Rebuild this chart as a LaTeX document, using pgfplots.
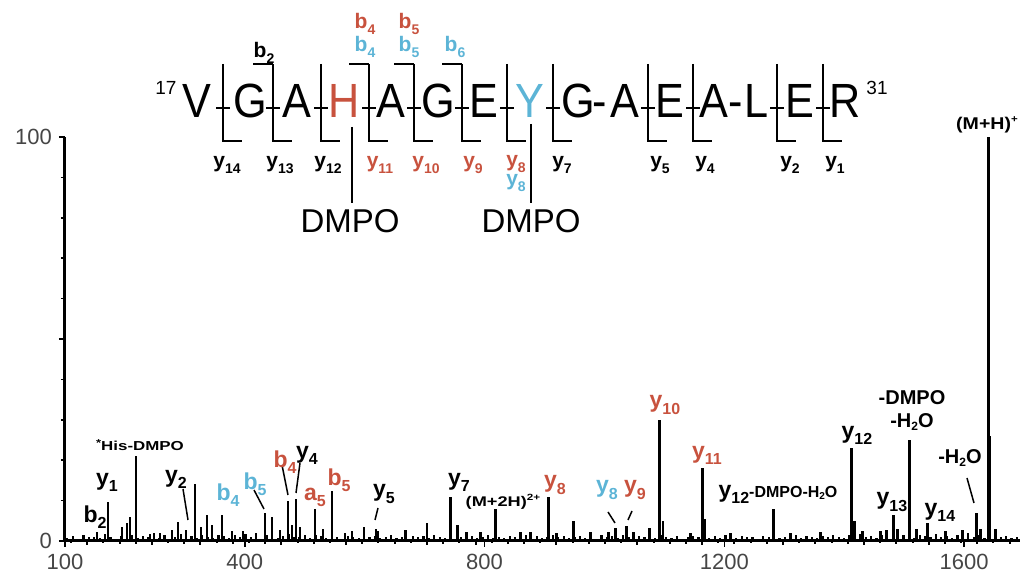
\documentclass[border=0pt]{standalone}
\usepackage{pgfplots}
\pgfplotsset{compat=1.18}
\usepackage{pgfplotstable}
\usepackage{fontspec}
\setmainfont{Liberation Sans}
\definecolor{ired}{RGB}{200,82,62}
\definecolor{iblue}{RGB}{92,180,214}
\definecolor{tgray}{RGB}{70,70,70}
\newcommand{\ion}[3][black]{\textcolor{#1}{\fontsize{11.5}{12}\selectfont\bfseries #2\raisebox{-0.5ex}{\fontsize{8}{8}\selectfont #3}}}
\newcommand{\pion}[3][black]{\textcolor{#1}{\fontsize{10.5}{11}\selectfont\bfseries #2\raisebox{-0.5ex}{\fontsize{7}{7}\selectfont #3}}}

\pgfplotstableread{
mz int
153.4 2.2
171.8 9.7
195 3.5
203.5 4.5
208.5 6.0
218.5 21
242 1.8
258.6 2.0
278.6 2.8
288.6 4.7
302 2.6
317 14
327 3.5
337 6.5
345.4 4.0
362 6.4
378.8 2.5
397 2.5
418.9 2.0
434 7.0
445.6 6.0
459 2.8
472.3 10
479 4.0
485.6 10.5
492.3 3.5
517.4 8.0
530.7 3.0
545.7 12.4
567.4 2.0
579 2.5
599 3.5
619 3.0
622.5 2.5
667.6 2.8
704.3 4.5
742.7 11
754.4 4.0
769.4 2.3
792.8 2.3
817.9 8.0
859.6 2.3
876.3 2.3
906.3 11
919.7 2.0
948 5.0
976.5 2.3
1006.5 2.3
1018.2 3.3
1036.6 3.7
1048.2 2.3
1075 3.2
1091.7 30
1098 5
1143.4 2.0
1163.4 18
1166.8 5.5
1210 2.0
1282 8.0
1310 2.0
1360 2.3
1412 23
1417 5
1430.6 2.5
1460.6 2.5
1470.6 2.7
1482.3 6.4
1489 3
1509 25
1520.7 3
1539 4.5
1569 2.5
1597.5 2.8
1621 7
1627.5 3
1640.9 100
1643 26
1652.6 3
}\peaks

\pgfplotstableread{
mz int
104 0.8
113 1.2
122 0.6
131 1.5
140 0.9
149 1.1
158 0.7
167 1.8
176 1.0
185 0.6
194 1.3
203 0.9
212 1.6
221 0.7
230 1.2
239 1.0
248 1.9
257 0.8
266 1.4
275 0.6
284 1.1
293 1.7
302 0.9
311 1.3
320 0.7
329 1.5
338 1.0
347 0.8
356 1.6
365 1.2
374 0.7
383 1.4
392 1.0
401 1.8
410 0.9
419 1.2
428 0.6
437 1.5
446 1.1
455 0.8
464 1.3
473 1.7
482 0.9
491 1.0
500 1.4
509 0.7
518 1.6
527 1.2
536 0.8
545 1.5
554 1.0
563 0.6
572 1.3
581 1.1
590 0.8
599 1.4
608 0.9
617 1.2
626 0.7
635 1.0
644 1.5
653 0.8
662 1.1
671 0.6
680 1.3
689 0.9
698 1.2
707 0.7
716 1.4
725 1.0
734 0.8
743 1.2
752 0.6
761 1.1
770 0.9
779 1.3
788 0.7
797 1.0
806 1.5
815 0.8
824 1.1
833 0.7
842 1.3
851 0.9
860 1.0
869 1.4
878 0.6
887 1.2
896 0.8
905 1.1
914 1.6
923 0.9
932 1.2
941 0.7
950 1.0
959 1.3
968 0.8
977 1.1
986 0.6
995 1.4
1004 0.9
1013 1.2
1022 0.7
1031 1.5
1040 1.0
1049 0.8
1058 1.3
1067 0.9
1076 1.1
1085 0.7
1094 1.4
1103 1.0
1112 0.8
1121 1.2
1130 0.6
1139 1.1
1148 1.3
1157 0.9
1166 1.0
1175 0.7
1184 1.2
1193 0.8
1202 1.5
1211 1.0
1220 0.7
1229 1.3
1238 0.9
1247 1.1
1256 0.6
1265 1.2
1274 1.0
1283 1.4
1292 0.8
1301 1.1
1310 0.9
1319 1.6
1328 0.7
1337 1.2
1346 1.0
1355 0.8
1364 1.3
1373 0.9
1382 1.5
1391 1.1
1400 0.7
1409 1.4
1418 1.0
1427 1.8
1436 0.9
1445 1.2
1454 0.8
1463 1.5
1472 1.1
1481 1.3
1490 0.9
1499 1.6
1508 1.0
1517 0.7
1526 1.4
1535 1.2
1544 0.9
1553 1.7
1562 1.1
1571 1.3
1580 0.8
1589 1.5
1598 1.2
1607 1.9
1616 1.0
1625 1.4
1634 0.8
1643 1.6
1652 1.1
1661 0.9
1670 1.3
1679 0.7
1688 1.0
}\noise

\pgfplotstableread{
mz int
110 -0.6
137 -0.9
164 -0.5
191 -0.8
218 -0.7
245 -1.0
272 -0.5
299 -0.7
326 -0.9
353 -0.6
380 -0.8
407 -0.5
434 -0.7
461 -1.0
488 -0.6
515 -0.8
542 -0.5
569 -0.9
596 -0.7
623 -0.6
650 -0.8
677 -0.5
704 -0.9
731 -0.7
758 -0.6
785 -1.0
812 -0.5
839 -0.8
866 -0.7
893 -0.6
920 -0.9
947 -0.5
974 -0.8
1001 -0.7
1028 -0.6
1055 -0.9
1082 -0.5
1109 -0.8
1136 -0.7
1163 -1.0
1190 -0.6
1217 -0.8
1244 -0.5
1271 -0.7
1298 -0.9
1325 -0.6
1352 -0.8
1379 -0.5
1406 -0.7
1433 -1.0
1460 -0.6
1487 -0.8
1514 -0.5
1541 -0.9
1568 -0.7
1595 -0.6
1622 -0.8
1649 -0.5
1676 -0.7
}\dips

\begin{document}
\begin{tikzpicture}
\begin{axis}[
  scale only axis, width=477.7pt, height=202pt,
  xmin=100, xmax=1694, ymin=0, ymax=100,
  enlargelimits=false,
  axis lines=left,
  axis line style={-, line width=1.5pt},
  clip=false,
  xtick={100,400,800,1200,1600},
  ytick={0,50,100}, yticklabels={0,,100},
  minor ytick={10,20,30,40,60,70,80,90},
  tick align=outside,
  major tick length=3pt, minor tick length=2pt,
  every tick/.style={black,line width=0.8pt},
  tick label style={font=\fontsize{11}{11}\selectfont, text=tgray},
  /pgf/number format/assume math mode=true,
  /pgf/number format/1000 sep={},
]
\addplot[ycomb, line width=1.1pt, black, no markers] table[x=mz,y=int]{\noise};
\addplot[ycomb, line width=1.0pt, black, no markers] table[x=mz,y=int]{\dips};
\addplot[ycomb, line width=1.3pt, black, no markers] table[x=mz,y=int]{\peaks};
\end{axis}

\begin{scope}[x=0.5pt,y=-0.5pt,shift={(-32.5pt,270.5pt)}]
  % peptide letters
  \foreach \x/\l/\c in {197/V/black,250/G/black,297/A/black,344/H/ired,391/A/black,438/G/black,484/E/black,530/Y/iblue,578/G/black,600/-/black,625/A/black,670/E/black,714/A/black,736/-/black,757/L/black,800/E/black,845/R/black}
    \node[anchor=base, inner sep=0pt, text=\c, font=\fontsize{24}{24}\selectfont] at (\x,118) {\scalebox{0.9}[1]{\l}};
  \node[font=\fontsize{9.5}{10}\selectfont] at (166,88) {17};
  \node[font=\fontsize{9.5}{10}\selectfont] at (877,88) {31};
  % cleavage brackets
  \begin{scope}[line width=1pt]
  \foreach \x in {223,273,321,369,414,462,507,553,648,693,777,823} {
    \draw (\x,64) -- (\x,141) -- ++(19,0);
    \draw (\x-7,108) -- (\x+7,108);
  }
  \foreach \x in {273,369,414,462} \draw (\x-20,64) -- (\x,64);
  \draw (352,127) -- (352,203);
  \draw (531,124) -- (531,203);
  \end{scope}
  \node[font=\fontsize{16.5}{17}\selectfont] at (350,221) {DMPO};
  \node[font=\fontsize{16.5}{17}\selectfont] at (531,221) {DMPO};
  % fragment labels in peptide
  \node at (264,53) {\pion{b}{2}};
  \node at (365,24) {\pion[ired]{b}{4}};
  \node at (365,47) {\pion[iblue]{b}{4}};
  \node at (409,24) {\pion[ired]{b}{5}};
  \node at (409,47) {\pion[iblue]{b}{5}};
  \node at (455,47) {\pion[iblue]{b}{6}};
  \node at (227,165) {\pion{y}{14}};
  \node at (280,165) {\pion{y}{13}};
  \node at (328,165) {\pion{y}{12}};
  \node at (380,165) {\pion[ired]{y}{11}};
  \node at (426,165) {\pion[ired]{y}{10}};
  \node at (473,165) {\pion[ired]{y}{9}};
  \node at (516,164) {\pion[ired]{y}{8}};
  \node at (516,183) {\pion[iblue]{y}{8}};
  \node at (562,165) {\pion{y}{7}};
  \node at (660,165) {\pion{y}{5}};
  \node at (705,165) {\pion{y}{4}};
  \node at (790,165) {\pion{y}{2}};
  \node at (835,165) {\pion{y}{1}};
  % pointers in spectrum
  \begin{scope}[line width=0.75pt]
  \draw (183,489) -- (188,520);
  \draw (254,490) -- (264,509);
  \draw (282,465) -- (288,495);
  \draw (300,463) -- (296,493);
  \draw (378,508) -- (375,520);
  \draw (608,512) -- (615,523);
  \draw (632,511) -- (628,520);
  \draw (967,478) -- (974,503);
  \end{scope}
  % spectrum labels
  \node at (95,517) {\ion{b}{2}};
  \node at (107,482) {\ion{y}{1}};
  \node[font=\fontsize{6.5}{7}\selectfont\bfseries] at (140,445) {\scalebox{1.3}[1]{\raisebox{0.5ex}{\tiny *}His-DMPO}};
  \node at (176,479) {\ion{y}{2}};
  \node at (228,495) {\ion[iblue]{b}{4}};
  \node at (255,484) {\ion[iblue]{b}{5}};
  \node at (285,462) {\ion[ired]{b}{4}};
  \node at (307,455) {\ion{y}{4}};
  \node at (315,497) {\ion[ired]{a}{5}};
  \node at (339,480) {\ion[ired]{b}{5}};
  \node at (384,494) {\ion{y}{5}};
  \node at (459,482) {\ion{y}{7}};
  \node[font=\fontsize{7}{7}\selectfont\bfseries] at (503,502) {\scalebox{1.3}[1]{(M+2H)\raisebox{0.8ex}{\fontsize{4.5}{5}\selectfont 2+}}};
  \node at (555,485) {\ion[ired]{y}{8}};
  \node at (607,490) {\ion[iblue]{y}{8}};
  \node at (635,490) {\ion[ired]{y}{9}};
  \node at (665,405) {\ion[ired]{y}{10}};
  \node at (707,455) {\ion[ired]{y}{11}};
  \node at (778,494) {\ion{y}{12}{\fontsize{8}{8}\selectfont\bfseries -DMPO-H\raisebox{-0.3ex}{\fontsize{5}{5}\selectfont 2}O}};
  \node at (857,435) {\ion{y}{12}};
  \node[font=\fontsize{10}{10}\selectfont\bfseries] at (912,398) {-DMPO};
  \node[font=\fontsize{10}{10}\selectfont\bfseries] at (912,422) {-H\raisebox{-0.3ex}{\fontsize{6}{6}\selectfont 2}O};
  \node at (892,502) {\ion{y}{13}};
  \node at (940,512) {\ion{y}{14}};
  \node[font=\fontsize{10}{10}\selectfont\bfseries] at (960,458) {-H\raisebox{-0.3ex}{\fontsize{6}{6}\selectfont 2}O};
  \node[font=\fontsize{8.5}{9}\selectfont\bfseries] at (987,125) {\scalebox{1.15}[1]{(M+H)\raisebox{0.8ex}{\fontsize{5}{5}\selectfont +}}};
\end{scope}
\pgfresetboundingbox
\path[use as bounding box] (-32.5pt,-15.5pt) rectangle (480pt,270.5pt);
\end{tikzpicture}
\end{document}
